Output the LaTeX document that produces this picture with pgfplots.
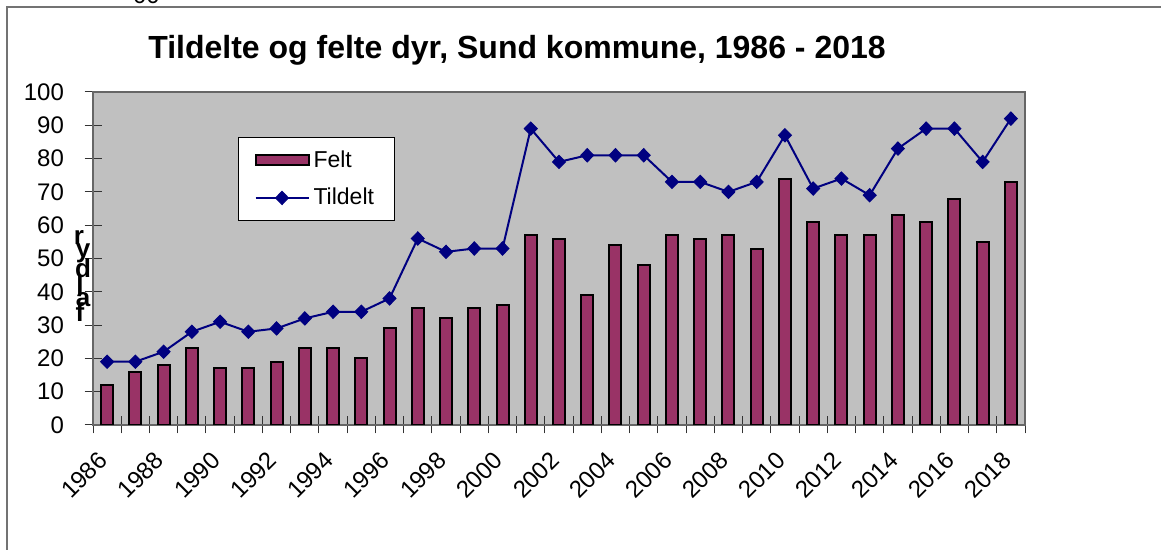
\documentclass[border=0pt]{standalone}
\usepackage{pgfplots}
\pgfplotsset{compat=1.18}
\usepackage{pgfplotstable}
\usepackage{fontspec}
\setmainfont{Liberation Sans}
\definecolor{barc}{HTML}{993366}
\definecolor{linec}{HTML}{000080}
\definecolor{plotbg}{HTML}{C0C0C0}
\pgfplotsset{
  barlegend/.style={legend image code/.code={\draw[##1] (0pt,-2.5pt) rectangle (26.5pt,2.5pt);}},
  linelegend/.style={legend image code/.code={\draw[mark repeat=2,mark phase=2,##1] plot coordinates {(0pt,0pt) (13.25pt,0pt) (26.5pt,0pt)};}},
}
\pgfplotstableread{
idx year felt tildelt
0 1986 12 19
1 1987 16 19
2 1988 18 22
3 1989 23 28
4 1990 17 31
5 1991 17 28
6 1992 19 29
7 1993 23 32
8 1994 23 34
9 1995 20 34
10 1996 29 38
11 1997 35 56
12 1998 32 52
13 1999 35 53
14 2000 36 53
15 2001 57 89
16 2002 56 79
17 2003 39 81
18 2004 54 81
19 2005 48 81
20 2006 57 73
21 2007 56 73
22 2008 57 70
23 2009 53 73
24 2010 74 87
25 2011 61 71
26 2012 57 74
27 2013 57 69
28 2014 63 83
29 2015 61 89
30 2016 68 89
31 2017 55 79
32 2018 73 92
}\datatable
\begin{document}
\begin{tikzpicture}[x=1pt,y=1pt]
\useasboundingbox (0,0) rectangle (580.5,275);
\draw[black!55, line width=0.6pt] (3.5,0) -- (3.5,271.5) -- (580.5,271.5);
\node[anchor=base, font=\fontsize{12}{12}\selectfont, inner sep=0pt] at (73.25,273) {00};
\node[font=\bfseries\fontsize{16}{16}\selectfont] at (258.5,250) {Tildelte og felte dyr, Sund kommune, 1986 - 2018};
\begin{axis}[
  at={(46.5pt,62.5pt)}, anchor=south west,
  scale only axis, width=466pt, height=166.5pt,
  xmin=-0.5, xmax=32.5, ymin=0, ymax=100,
  axis background/.style={fill=plotbg},
  axis line style={black!60, line width=0.6pt},
  ytick={0,10,...,100},
  xtick={0,2,...,32},
  xticklabels={1986,1988,1990,1992,1994,1996,1998,2000,2002,2004,2006,2008,2010,2012,2014,2016,2018},
  minor xtick={-0.5,0.5,...,32.5},
  tick pos=left,
  major x tick style={draw=none},
  minor tick length=8.5pt,
  major tick length=8.5pt,
  tick align=center,
  tick style={black!80, line width=0.5pt},
  /pgf/number format/assume math mode=true,
  ticklabel style={font=\fontsize{12}{12}\selectfont},
  yticklabel style={xshift=-6.75pt},
  xticklabel style={xshift=-1.9pt, yshift=-11.3pt, rotate=45, anchor=east, inner sep=0pt},
  legend style={at={(0.1556,0.865)}, anchor=north west, draw=black, fill=white,
    font=\fontsize{11.5}{11.5}\selectfont, row sep=5pt, inner xsep=8pt, inner ysep=4.5pt, line width=0.5pt},
  legend cell align=left,
]
\addplot[ybar, bar width=6pt, fill=barc, draw=black, line width=1pt, barlegend]
  table[x=idx, y=felt] {\datatable};
\addlegendentry{Felt}
\addplot[linec, line width=1pt, mark=diamond*, mark size=3.3pt, mark options={fill=linec, draw=linec, line width=0.5pt, xscale=1.3}, linelegend]
  table[x=idx, y=tildelt] {\datatable};
\addlegendentry{Tildelt}
\end{axis}
\begin{scope}[every node/.style={font=\bfseries\fontsize{13}{13}\selectfont, inner sep=0pt}]
\node at (39.5,156) {r};
\node at (41.5,148.5) {y};
\node at (41.5,141) {d};
\node at (40,132.5) {l};
\node at (41.5,125) {a};
\node at (40,119) {f};
\end{scope}
\end{tikzpicture}
\end{document}
